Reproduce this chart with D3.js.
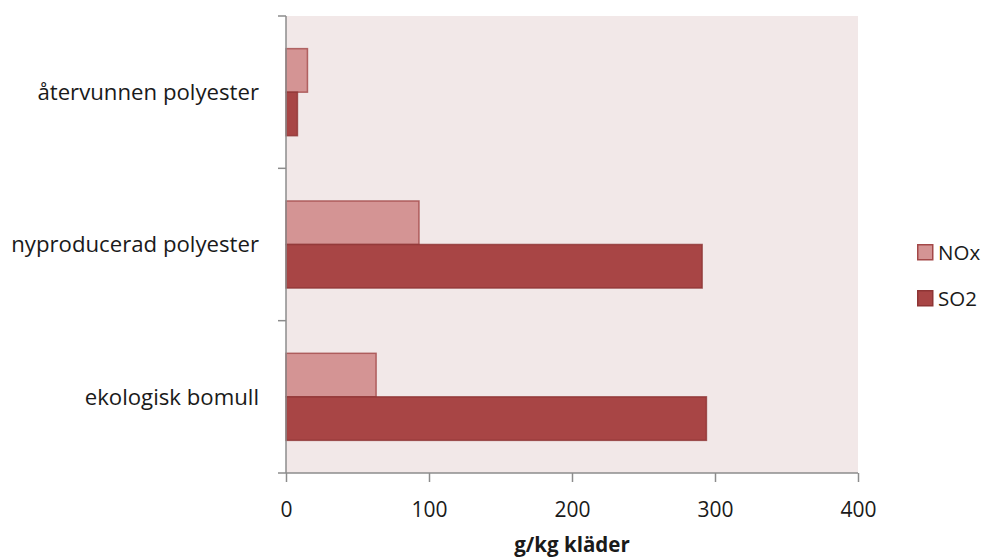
<!DOCTYPE html>
<html>
<head>
<meta charset="utf-8">
<script src="https://cdn.jsdelivr.net/npm/d3@7"></script>
<style>
  html, body { margin: 0; padding: 0; background: #ffffff; }
  svg { display: block; }
  text { font-family: "Open Sans", "Liberation Sans", sans-serif; fill: #1a1a1a; }
</style>
</head>
<body>
<svg id="chart" width="983" height="558"></svg>
<script>
// Emissions per kg of clothing, by fibre type
const categories = ["återvunnen polyester", "nyproducerad polyester", "ekologisk bomull"];
const seriesNames = ["NOx", "SO2"];
const noxValues = [15, 93, 63];
const so2Values = [8, 291, 294];
const xTicks = [0, 100, 200, 300, 400];
const xTitle = "g/kg kläder";

const colors = { NOx: "#d49494", SO2: "#a84545" };
const strokes = { NOx: "#a34848", SO2: "#8e3535" };

const svg = d3.select("#chart");
const plot = { left: 286, right: 858, top: 16, bottom: 473 };

const x = d3.scaleLinear().domain([0, 400]).range([plot.left, plot.right]);
const y = d3.scaleBand().domain(categories).range([plot.top, plot.bottom]).paddingInner(0).paddingOuter(0);
// two bars per category with a 150% gap shared around the pair
const inner = d3.scaleBand().domain(seriesNames).range([0, y.bandwidth()]).paddingInner(0).paddingOuter(0.75);

// plot background
svg.append("rect")
  .attr("x", plot.left).attr("y", plot.top)
  .attr("width", plot.right - plot.left).attr("height", plot.bottom - plot.top)
  .attr("fill", "#f2e8e8");

// bars
const rows = categories.map((c, i) => ({ cat: c, values: [
  { key: "NOx", value: noxValues[i] },
  { key: "SO2", value: so2Values[i] }
]}));

const groups = svg.append("g").selectAll("g").data(rows).join("g")
  .attr("transform", d => `translate(0,${y(d.cat)})`);

groups.selectAll("rect").data(d => d.values).join("rect")
  .attr("x", x(0))
  .attr("y", d => inner(d.key))
  .attr("width", d => x(d.value) - x(0))
  .attr("height", inner.bandwidth())
  .attr("fill", d => colors[d.key])
  .attr("stroke", d => strokes[d.key])
  .attr("stroke-width", 1.5)
  .attr("stroke-opacity", 0.8);

// y axis (category)
svg.append("line")
  .attr("x1", plot.left).attr("x2", plot.left)
  .attr("y1", plot.top).attr("y2", plot.bottom)
  .attr("stroke", "#8c8c8c").attr("stroke-width", 1.5);
// tick marks sit on the category boundaries
const boundaries = [plot.top, ...categories.map(c => y(c) + y.bandwidth())];
svg.append("g").selectAll("line").data(boundaries).join("line")
  .attr("x1", plot.left - 8).attr("x2", plot.left)
  .attr("y1", d => d).attr("y2", d => d)
  .attr("stroke", "#8c8c8c").attr("stroke-width", 1.5);
svg.append("g").selectAll("text").data(categories).join("text")
  .attr("x", 259)
  .attr("y", d => y(d) + y.bandwidth() / 2)
  .attr("dy", "0.36em")
  .attr("text-anchor", "end")
  .attr("font-size", 22.2)
  .text(d => d);

// x axis
const xAxis = d3.axisBottom(x).tickValues(xTicks).tickSize(9).tickPadding(14);
const xg = svg.append("g").attr("transform", `translate(0,${plot.bottom})`).call(xAxis);
xg.select(".domain").attr("stroke", "#8c8c8c").attr("stroke-width", 1.5).attr("d", `M${plot.left},0H${plot.right}`);
xg.selectAll(".tick line").attr("stroke", "#8c8c8c").attr("stroke-width", 1.5);
xg.selectAll(".tick text")
  .attr("y", 43.5)
  .attr("dy", null)
  .attr("font-size", 21)
  .attr("font-family", "'Open Sans', 'Liberation Sans', sans-serif")
  .attr("fill", "#1a1a1a");

svg.append("text")
  .attr("x", 572)
  .attr("y", 552)
  .attr("text-anchor", "middle")
  .attr("font-size", 20.5)
  .attr("font-weight", "bold")
  .text(xTitle);

// legend
const legend = svg.append("g").selectAll("g").data(seriesNames).join("g")
  .attr("transform", (d, i) => `translate(917,${244 + i * 46})`);
legend.append("rect")
  .attr("x", 0.75).attr("y", 0.75)
  .attr("width", 15).attr("height", 15)
  .attr("fill", d => colors[d])
  .attr("stroke", d => strokes[d]).attr("stroke-width", 1.5);
legend.append("text")
  .attr("x", 21).attr("y", 16)
  .attr("font-size", 20.5)
  .text(d => d);
</script>
</body>
</html>
